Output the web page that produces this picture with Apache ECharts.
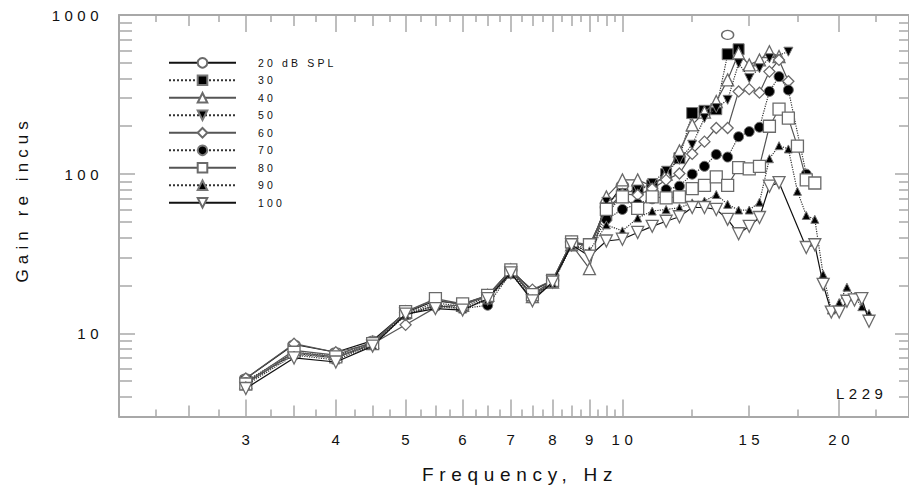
<!DOCTYPE html>
<html><head><meta charset="utf-8">
<script src="https://cdn.jsdelivr.net/npm/echarts@6/dist/echarts.min.js"></script>
<style>
html,body{margin:0;padding:0;background:#fff;}
#chart{width:909px;height:491px;}
#chart svg text{letter-spacing:0.3em;}
</style></head><body><div id="chart"></div>
<script>
const freqs = [3,3.5,4,4.5,5,5.5,6,6.5,7,7.5,8,8.5,9,9.5,10,10.5,11,11.5,12,12.5,13,13.5,14,14.5,15,15.5,16,16.5,17,17.5,18,18.5,19,19.5,20,20.5,21,21.5,22];
const seriesNames = ['20 dB SPL','30','40','50','60','70','80','90','100'];
const N = null;
const spl20  = [5.2,8.5,7.6,9.0,13.5,16.0,15.3,17.2,25.0,18.5,21.5,37.5,35,62,85, N,N,N,N,N,N,N, 750, N,N,N,N,N,N,N,N,N,N,N,N,N,N,N,N];
const spl30  = [5.0,7.6,7.2,8.7,13.3,15.5,14.8,16.8,24.5,17.5,21.0,37.0,35,55,75,80,85,100,126,242,250,256,567,609, N,N,N,N,N,N,N,N,N,N,N,N,N,N,N];
const spl40  = [4.9,7.8,7.3,8.8,13.6,16.3,15.0,17.3,25.0,17.0,21.0,36.0,25.5,72,92,92,84,100,140,204,245,286,391,575,486,522,588,548, N,N,N,N,N,N,N,N,N,N,N];
const spl50  = [4.8,7.5,7.0,8.5,13.2,15.0,14.5,16.5,24.0,16.5,21.0,36.5,32,67,76,80,88,105,123,153,225,260,293,497,401,463,535, N,588, N,N,N,N,N,N,N,N,N,N];
const spl60  = [5.2,8.6,7.6,8.6,11.3,14.5,15.2,17.0,24.5,18.8,21.5,37.5,35,60,75,74,81,92,101,134,160,195,195,331,342,325,441,522,383, N,N,N,N,N,N,N,N,N,N];
const spl70  = [4.9,7.4,7.0,8.5,13.0,15.0,14.3,15.0,24.0,17.5,21.0,36.0,34,52,60,65,70,80,84,100,112,133,128,172,185,197,331,410,338, N,100, N,N,N,N,N,N,N,N];
const spl80  = [4.8,7.6,7.1,8.6,13.7,16.5,15.3,17.3,25.0,17.5,21.5,37.5,36,60,72,61,72,71,72,81,85,96,85,110,108,112,200,256,225,150,92,88, N,N,N,N,N,N,N];
const spl90  = [4.7,7.3,6.8,8.4,13.0,14.8,14.2,16.2,23.5,16.5,20.5,35.5,33,48,44,53,58.6,60,61.5,66,67.7,74.5,64.6,59.5,59.5,66.7,125,151,144,78,55,52,23.5,14.0,15.6,19.5,17,14.7,13.3];
const spl100 = [4.5,7.0,6.6,8.3,13.2,14.3,14.0,16.5,24.0,16.0,21.0,36.0,30.5,38,39,43,47,50.6,54,61.7,61.7,60,52,42.2,47,53.4,84,88.5, N,N,34.6,36,20.3,13.6,13.6,15.9,16.2,16.5,11.9];
const allValues = [spl20,spl30,spl40,spl50,spl60,spl70,spl80,spl90,spl100];

const xMajor = [3,4,5,6,7,8,9,10,20];
const xMid = [2.5,3.5,4.5,5.5,6.5,7.5,8.5,9.5,15];
const xMinor = [2.25,2.75,3.25,3.75,4.25,4.75,5.25,5.75,6.25,6.75,7.25,7.75,8.25,8.75,9.25,9.75,12.5,17.5,22.5];
const xLabels = [3,4,5,6,7,8,9,10,15,20];
const yMajor = [10,100,1000];
const yMinor = [4,5,6,7,8,9,20,30,40,50,60,70,80,90,200,300,400,500,600,700,800,900];

const FONT = 'Liberation Sans';
const AX = '#a8a8a8';

const styles = [
  {symbol:'circle', size:[12,9], fill:'#fff', dash:'solid', lc:'#111', rot:0},
  {symbol:'rect', size:11, fill:'#000', dash:'dotted', lc:'#333', rot:0},
  {symbol:'triangle', size:12, fill:'#fff', dash:'solid', lc:'#555', rot:0},
  {symbol:'triangle', size:9, fill:'#000', dash:'dotted', lc:'#333', rot:180},
  {symbol:'diamond', size:[11,11], fill:'#fff', dash:'solid', lc:'#555', rot:0},
  {symbol:'circle', size:10, fill:'#000', dash:'dotted', lc:'#333', rot:0},
  {symbol:'rect', size:12, fill:'#fff', dash:'solid', lc:'#555', rot:0},
  {symbol:'triangle', size:8, fill:'#000', dash:'dotted', lc:'#333', rot:0},
  {symbol:'triangle', size:12, fill:'#fff', dash:'solid', lc:'#111', rot:180}
];

const plain = v => String(v);

function xAx(pos, vals, len, showLine, labels, extra){
  return Object.assign({
    type:'log', logBase:10, min:2, max:25, position:pos, gridIndex:0,
    axisLine:{show:showLine, lineStyle:{color:AX, width:2}},
    axisTick:{show:true, inside:true, length:len, customValues:vals, lineStyle:{color:AX, width:1.5}},
    axisLabel: labels ? {show:true, customValues:labels, formatter:plain, margin:15, fontSize:15, color:'#111', fontFamily:FONT, padding:[0,0,0,4]} : {show:false},
    splitLine:{show:false}, minorTick:{show:false}, minorSplitLine:{show:false}
  }, extra||{});
}
function yAx(pos, vals, len, showLine, labels, extra){
  return Object.assign({
    type:'log', logBase:10, min:3, max:1000, position:pos, gridIndex:0,
    axisLine:{show:showLine, lineStyle:{color:AX, width:2}},
    axisTick:{show:true, inside:true, length:len, customValues:vals, lineStyle:{color:AX, width:1.5}},
    axisLabel: labels ? {show:true, customValues:labels, formatter:plain, margin:16, fontSize:15, color:'#111', fontFamily:FONT} : {show:false},
    splitLine:{show:false}, minorTick:{show:false}, minorSplitLine:{show:false}
  }, extra||{});
}

const series = seriesNames.map((name,i)=>{
  const s = styles[i];
  return {
    name, type:'line', xAxisIndex:0, yAxisIndex:0,
    data: freqs.map((f,k)=>[f, allValues[i][k]]),
    connectNulls: i !== 0,
    symbol: s.symbol, symbolSize: s.size, symbolRotate: s.rot, showSymbol:true, showAllSymbol:true,
    itemStyle:{color:s.fill, borderColor: s.fill === '#000' ? '#777' : '#6a6a6a', borderWidth: s.fill === '#000' ? 1 : 1.3},
    lineStyle:{color:s.lc, width:1.2, type:s.dash},
    emphasis:{disabled:true}, z: 2 + i
  };
});

const chart = echarts.init(document.getElementById('chart'), null, {renderer:'svg'});
chart.setOption({
  animation:false,
  backgroundColor:'#fff',
  textStyle:{fontFamily:FONT},
  grid:{left:119, top:15, width:795.6, height:401.5, containLabel:false},
  xAxis:[
    xAx('bottom', xMajor, 17, true, xLabels, {name:'Frequency, Hz', nameLocation:'middle', nameGap:48, nameTextStyle:{fontSize:19, color:'#111', fontFamily:FONT, padding:[0,0,0,12]}}),
    xAx('bottom', xMid, 11, false, null),
    xAx('bottom', xMinor, 7, false, null),
    xAx('top', xMajor, 17, true, null),
    xAx('top', xMid, 11, false, null),
    xAx('top', xMinor, 7, false, null)
  ],
  yAxis:[
    yAx('left', yMajor, 16, true, yMajor, {name:'Gain re incus', nameLocation:'middle', nameGap:88, nameRotate:90, nameTextStyle:{fontSize:17, color:'#111', fontFamily:FONT, padding:[0,0,0,33]}}),
    yAx('left', yMinor, 13, false, null),
    yAx('right', yMajor, 14, true, null),
    yAx('right', yMinor, 10, false, null)
  ],
  legend:{
    orient:'vertical', left:163, top:52, padding:5, itemWidth:67, itemHeight:12, itemGap:5.9,
    data: seriesNames,
    textStyle:{fontSize:10.5, color:'#111', fontFamily:FONT, padding:[0,0,0,17]},
    selectedMode:false
  },
  graphic:[{type:'text', left:836, top:386, style:{text:'L229', font:'15px "Liberation Sans"', fill:'#111'}}],
  series
});
</script></body></html>
